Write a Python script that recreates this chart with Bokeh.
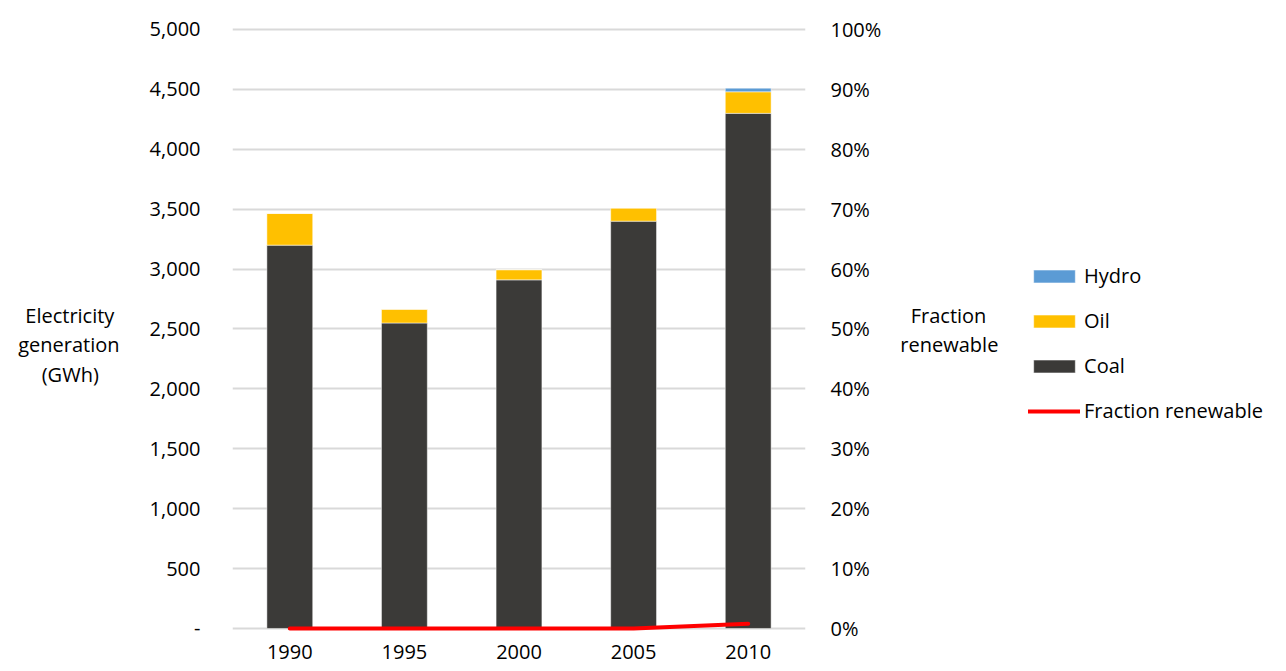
from bokeh.plotting import figure
from bokeh.models import (ColumnDataSource, Range1d, LinearAxis, FixedTicker,
                          NumeralTickFormatter, Legend, LegendItem)
from bokeh.embed import file_html
from bokeh.resources import INLINE

years = ["1990", "1995", "2000", "2005", "2010"]
coal = [3200, 2550, 2910, 3400, 4300]
oil = [265, 115, 85, 110, 180]
hydro = [0, 0, 0, 0, 30]
fraction_renewable = [0.0, 0.0, 0.0, 0.0, 0.008]
left_ticks = list(range(0, 5001, 500))
right_ticks = [i / 10 for i in range(0, 11)]

FONT = "Open Sans"
FS = "20px"
TXT = "#000000"
NB = "\u00a0"

src = ColumnDataSource(dict(year=years, Coal=coal, Oil=oil, Hydro=hydro,
                            frac=fraction_renewable))

Y0, Y1 = -42, 5025
p = figure(x_range=years, y_range=Range1d(Y0, Y1),
           width=1286, height=671,
           frame_width=573, frame_height=607,
           output_backend="svg", toolbar_location=None,
           min_border_left=232, min_border_right=0, min_border_top=26,
           min_border_bottom=38)
p.extra_y_ranges = {"frac": Range1d(Y0 / 5000, Y1 / 5000)}
p.outline_line_color = None
p.x_range.range_padding = 0.0

r = p.vbar_stack(["Coal", "Oil", "Hydro"], x="year", width=0.4, source=src,
                 color=["#3B3A38", "#FFC000", "#5B9BD5"],
                 line_color="white", line_width=0.8, line_alpha=0.6)
ln = p.line(x="year", y="frac", source=src, y_range_name="frac",
            line_color="#FF0000", line_width=4, line_cap="round")

p.xgrid.grid_line_color = None
p.ygrid.grid_line_color = "#D9D9D9"
p.ygrid.grid_line_width = 2
p.ygrid.ticker = FixedTicker(ticks=left_ticks)

ya = p.yaxis[0]
ya.ticker = FixedTicker(ticks=left_ticks)
ya.formatter = NumeralTickFormatter(format="0,0")
ya.major_label_overrides = {0: "-"}
ya.axis_label = NB + "\nElectricity" + NB + "\ngeneration\n(GWh)" + NB * 4
ya.axis_label_orientation = "horizontal"
ya.axis_label_standoff = 27
ya.major_label_standoff = 32

ra = LinearAxis(y_range_name="frac", ticker=FixedTicker(ticks=right_ticks),
                formatter=NumeralTickFormatter(format="0%"))
ra.axis_label = NB * 2 + "Fraction\nrenewable" + NB * 7
ra.axis_label_orientation = "horizontal"
ra.axis_label_standoff = 16
ra.major_label_standoff = 25
p.add_layout(ra, "right")

xa = p.xaxis[0]
xa.major_label_standoff = 11

for ax in [ya, ra, xa]:
    ax.axis_line_color = None
    ax.major_tick_line_color = None
    ax.minor_tick_line_color = None
    ax.major_tick_out = 0
    ax.major_tick_in = 0
    ax.major_label_text_font = FONT
    ax.major_label_text_font_size = FS
    ax.major_label_text_color = TXT
    ax.axis_label_text_font = FONT
    ax.axis_label_text_font_size = FS
    ax.axis_label_text_font_style = "normal"
    ax.axis_label_text_color = TXT
    ax.axis_label_text_line_height = 1.1

legend = Legend(items=[
    LegendItem(label="Hydro", renderers=[r[2]]),
    LegendItem(label="Oil", renderers=[r[1]]),
    LegendItem(label="Coal", renderers=[r[0]]),
    LegendItem(label="Fraction renewable", renderers=[ln]),
], location=(-233, 209))
legend.border_line_color = None
legend.background_fill_alpha = 0
legend.label_text_font = FONT
legend.label_text_font_size = FS
legend.label_text_color = TXT
legend.glyph_width = 52
legend.glyph_height = 16
legend.label_height = 20
legend.spacing = 18
legend.label_standoff = 4
legend.padding = 0
legend.margin = 0
p.add_layout(legend, "right")

open("out.html", "w").write(file_html(p, INLINE))
